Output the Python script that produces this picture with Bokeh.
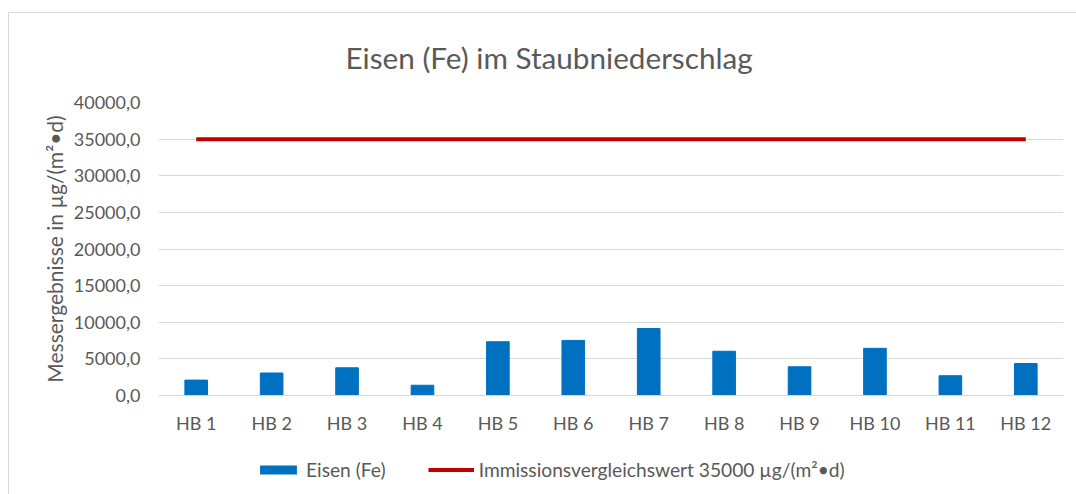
from bokeh.plotting import figure
from bokeh.layouts import column
from bokeh.models import (FactorRange, Range1d, FixedTicker, CustomJSTickFormatter,
                          Legend, LegendItem, Title)
from bokeh.embed import file_html
from bokeh.resources import INLINE

categories = ["HB 1", "HB 2", "HB 3", "HB 4", "HB 5", "HB 6",
              "HB 7", "HB 8", "HB 9", "HB 10", "HB 11", "HB 12"]
eisen = [2100, 3070, 3780, 1400, 7340, 7520, 9150, 6040, 3920, 6440, 2700, 4370]
grenzwert = [35000] * len(categories)
y_ticks = [0, 5000, 10000, 15000, 20000, 25000, 30000, 35000, 40000]
label_bars = "Eisen (Fe)"
label_line = "Immissionsvergleichswert 35000 µg/(m²•d)"

FONT = "Lato"
GRAY = "#595959"
BLUE = "#0070c0"
RED = "#c00000"

p = figure(width=1067, height=427, x_range=FactorRange(*categories),
           y_range=Range1d(0, 40000), output_backend="svg", toolbar_location=None,
           min_border_left=149, min_border_right=13, min_border_top=85,
           min_border_bottom=45)

t = Title(text="Eisen (Fe) im Staubniederschlag", align="left", offset=187,
          text_font=FONT, text_font_size="29.7px", text_color=GRAY,
          text_font_style="normal", standoff=52, vertical_align="top",
          text_line_height=1.0)
p.add_layout(t, "above")

p.vbar(x=categories, top=eisen, width=0.3, color=BLUE)
p.line(x=categories, y=grenzwert, line_color=RED, line_width=4)

p.outline_line_color = None
p.xgrid.grid_line_color = None
p.ygrid.grid_line_color = "#d9d9d9"
p.ygrid.grid_line_width = 1

p.yaxis.ticker = FixedTicker(ticks=y_ticks)
p.yaxis.formatter = CustomJSTickFormatter(code="return tick.toFixed(1).replace('.', ',');")
p.yaxis.axis_line_color = None
p.yaxis.major_tick_line_color = None
p.yaxis.minor_tick_line_color = None
p.yaxis.major_label_standoff = 12
p.yaxis.major_label_text_font = FONT
p.yaxis.major_label_text_font_size = "18px"
p.yaxis.major_label_text_color = GRAY
p.yaxis.axis_label = "Messergebnisse in µg/(m²•d)"
p.yaxis.axis_label_text_font = FONT
p.yaxis.axis_label_text_font_size = "21px"
p.yaxis.axis_label_text_font_style = "normal"
p.yaxis.axis_label_text_color = GRAY
p.yaxis.axis_label_standoff = 4

p.xaxis.axis_line_color = "#d9d9d9"
p.xaxis.major_tick_line_color = None
p.xaxis.minor_tick_line_color = None
p.xaxis.major_label_standoff = 10
p.xaxis.major_label_text_font = FONT
p.xaxis.major_label_text_font_size = "18px"
p.xaxis.major_label_text_color = GRAY

# legend strip: same series placed outside its visible range, only the legend shows
lg = figure(width=1067, height=54, x_range=FactorRange(*categories), y_range=Range1d(-2, -1),
            output_backend="svg", toolbar_location=None, x_axis_type=None,
            y_axis_type=None, min_border=0)
lg.outline_line_color = None
lg.grid.grid_line_color = None
rb = lg.vbar(x=categories, top=eisen, width=0.0, fill_color=BLUE, line_color=None)
rl = lg.line(x=categories, y=grenzwert, line_color=RED, line_width=4)
legend = Legend(items=[LegendItem(label=label_bars, renderers=[rb]),
                       LegendItem(label=label_line, renderers=[rl])],
                orientation="horizontal", location=(97, 13), padding=0, margin=0,
                spacing=42, glyph_width=46, glyph_height=11, label_height=11,
                label_standoff=5, label_text_font=FONT, label_text_font_size="19.2px",
                label_text_color=GRAY, border_line_color=None, background_fill_alpha=0)
lg.add_layout(legend, "center")

layout = column(p, lg, spacing=0,
                styles={"margin-left": "8px", "margin-top": "12px",
                        "border-left": "1px solid #d9d9d9",
                        "border-top": "1px solid #d9d9d9"})

open("out.html", "w").write(file_html(layout, INLINE))
